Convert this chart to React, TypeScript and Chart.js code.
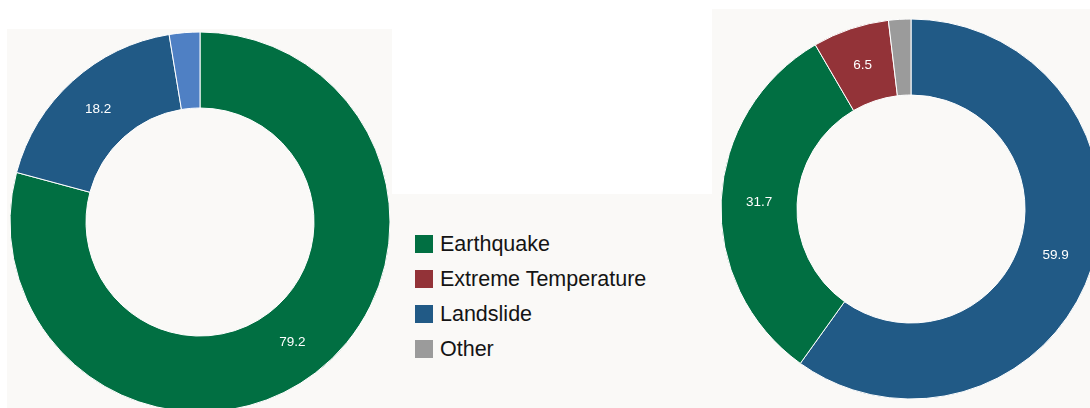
import React, { useEffect, useRef } from "react";
import { Chart, registerables } from "chart.js";

Chart.register(...registerables);

const GREEN = "#016f42";
const BLUE = "#215a86";
const LIGHT_BLUE = "#4f80c4";
const RED = "#933338";
const GRAY = "#9b9b9b";

const leftCategories = ["Earthquake", "Landslide", "Other"];
const leftValues = [79.2, 18.2, 2.6];
const leftColors = [GREEN, BLUE, LIGHT_BLUE];

const rightCategories = ["Landslide", "Earthquake", "Extreme Temperature", "Other"];
const rightValues = [59.9, 31.7, 6.5, 1.9];
const rightColors = [BLUE, GREEN, RED, GRAY];

const legendCategories = ["Earthquake", "Extreme Temperature", "Landslide", "Other"];
const legendColors = [GREEN, RED, BLUE, GRAY];

const LABEL_MIN = 5;

const valueLabelPlugin = {
  id: "valueLabels",
  afterDatasetsDraw(chart: any) {
    const ctx = chart.ctx;
    const meta = chart.getDatasetMeta(0);
    const data = chart.data.datasets[0].data as number[];
    ctx.save();
    ctx.font = "13.5px 'Liberation Sans', Arial, sans-serif";
    ctx.fillStyle = "#ffffff";
    ctx.textAlign = "center";
    ctx.textBaseline = "middle";
    meta.data.forEach((arc: any, i: number) => {
      const v = data[i];
      if (v < LABEL_MIN) return;
      const p = arc.tooltipPosition();
      ctx.fillText(v.toFixed(1), p.x, p.y);
    });
    ctx.restore();
  },
};

function Donut({ labels, values, colors, style }: any) {
  const ref = useRef<HTMLCanvasElement>(null);
  useEffect(() => {
    if (!ref.current) return;
    const chart = new Chart(ref.current, {
      type: "doughnut",
      data: {
        labels,
        datasets: [
          {
            data: values,
            backgroundColor: colors,
            borderColor: "#ffffff",
            borderWidth: 1,
          },
        ],
      },
      options: {
        animation: false,
        responsive: false,
        maintainAspectRatio: false,
        radius: 190,
        cutout: "60%",
        events: [],
        layout: { padding: 0 },
        plugins: {
          legend: { display: false },
          tooltip: { enabled: false },
        },
      },
      plugins: [valueLabelPlugin],
    });
    return () => chart.destroy();
  }, []);
  return (
    <canvas
      ref={ref}
      width={380}
      height={380}
      style={{ position: "absolute", width: 380, height: 380, ...style }}
    />
  );
}

export default function App() {
  const bg = "#faf9f7";
  return (
    <div
      style={{
        position: "fixed",
        left: 0,
        top: 0,
        width: 1090,
        height: 408,
        overflow: "hidden",
        background: "#ffffff",
        fontFamily: "'Liberation Sans', Arial, sans-serif",
      }}
    >
      <div style={{ position: "absolute", left: 7, top: 29, width: 385, height: 379, background: bg }} />
      <div style={{ position: "absolute", left: 392, top: 194, width: 320, height: 214, background: bg }} />
      <div style={{ position: "absolute", left: 712, top: 9, width: 378, height: 399, background: bg }} />
      <Donut labels={leftCategories} values={leftValues} colors={leftColors} style={{ left: 10, top: 32 }} />
      <Donut labels={rightCategories} values={rightValues} colors={rightColors} style={{ left: 721, top: 19 }} />
      <div style={{ position: "absolute", left: 415, top: 235 }}>
        {legendCategories.map((c, i) => (
          <div
            key={c}
            style={{ display: "flex", alignItems: "center", height: 18, marginBottom: 17 }}
          >
            <div style={{ width: 18, height: 18, background: legendColors[i], marginRight: 7 }} />
            <span style={{ fontSize: 21.5, color: "#141414", lineHeight: "18px", whiteSpace: "nowrap" }}>{c}</span>
          </div>
        ))}
      </div>
    </div>
  );
}
